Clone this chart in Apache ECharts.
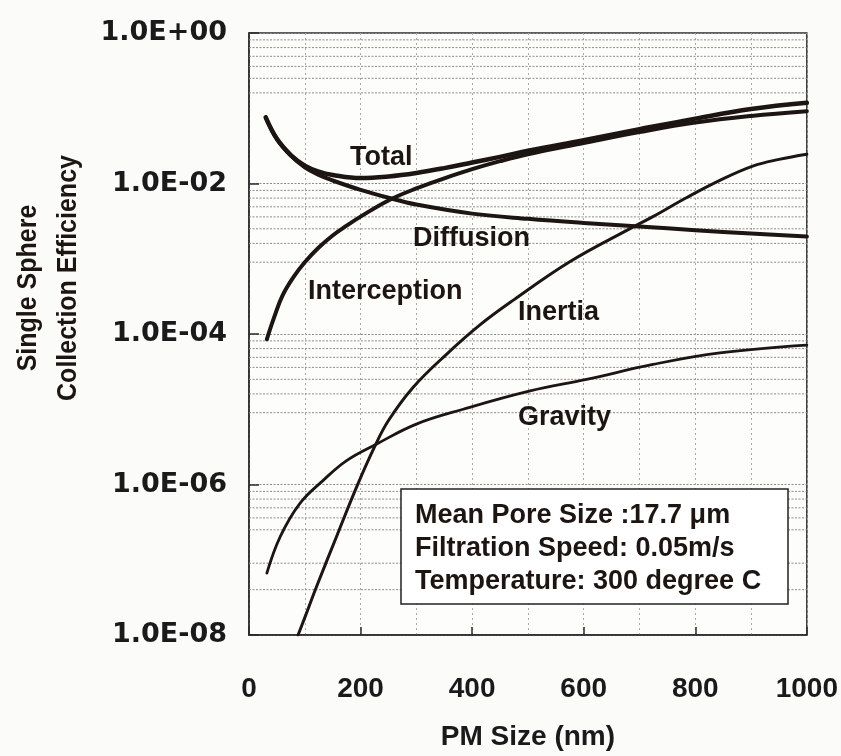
<!DOCTYPE html>
<html><head><meta charset="utf-8">
<script src="https://cdn.jsdelivr.net/npm/echarts@6/dist/echarts.min.js"></script>
<style>html,body{margin:0;padding:0;background:#fbfbfa;} #c{width:841px;height:756px;}</style>
</head><body><div id="c"></div>
<script>
// ---- data ----
const yTickExponents = [-8, -6, -4, -2, 0];
const yTickLabels = ['1.0E-08', '1.0E-06', '1.0E-04', '1.0E-02', '1.0E+00'];

const totalX = [30, 50, 75, 100, 125, 150, 200, 250, 300, 350, 400, 450, 500, 600, 700, 800, 900, 1000];
const totalY = [0.0756, 0.0392, 0.0239, 0.0173, 0.0144, 0.0130, 0.0118, 0.0124, 0.0138, 0.0160, 0.0190, 0.0226, 0.0272, 0.0377, 0.0527, 0.0728, 0.0975, 0.118];

const diffusionX = [30, 50, 75, 100, 125, 150, 200, 250, 300, 400, 500, 600, 700, 800, 900, 1000];
const diffusionY = [0.0755, 0.0389, 0.0234, 0.0164, 0.0130, 0.01096, 0.00822, 0.00646, 0.00525, 0.00398, 0.00339, 0.00299, 0.00269, 0.00240, 0.00216, 0.00197];

const interceptionX = [32, 45, 60, 80, 100, 125, 150, 175, 200, 250, 300, 350, 400, 450, 500, 600, 700, 800, 900, 1000];
const interceptionY = [8.5e-5, 1.66e-4, 3.24e-4, 5.75e-4, 9.0e-4, 1.41e-3, 2.04e-3, 2.75e-3, 3.63e-3, 5.96e-3, 8.6e-3, 0.0117, 0.0155, 0.0198, 0.0245, 0.0345, 0.0482, 0.0645, 0.0790, 0.0914];

const inertiaX = [88, 100, 121, 157, 193, 225, 250, 294, 354, 414, 474, 575, 683, 724, 784, 844, 903, 950, 1000];
const inertiaY = [1.0e-8, 1.7e-8, 4.37e-8, 2.04e-7, 9.3e-7, 3.16e-6, 7.08e-6, 1.95e-5, 5.37e-5, 1.32e-4, 2.82e-4, 9.12e-4, 2.51e-3, 3.63e-3, 6.46e-3, 0.0110, 0.0170, 0.0209, 0.0245];

const gravityX = [32, 56, 91, 133, 175, 229, 300, 384, 504, 605, 724, 844, 1000];
const gravityY = [6.65e-8, 2.03e-7, 5.58e-7, 1.135e-6, 2.08e-6, 3.46e-6, 6.35e-6, 1.0e-5, 1.75e-5, 2.49e-5, 3.94e-5, 5.6e-5, 7.1e-5];

// horizontal minor grid lines of the log axis
const minorGridValues = [
  0.81, 0.64, 0.49, 0.36, 0.25, 0.16,
  8.1e-3, 6.4e-3, 4.9e-3, 3.6e-3, 2.5e-3, 1.6e-3, 9e-4,
  8.1e-5, 6.4e-5, 4.9e-5, 3.6e-5, 2.5e-5, 1.6e-5, 9e-6,
  8.1e-7, 6.4e-7, 4.9e-7, 3.6e-7, 2.5e-7, 9e-8, 4e-8
];

const seriesNames = ['Total', 'Diffusion', 'Interception', 'Inertia', 'Gravity'];
const infoLines = ['Mean Pore Size :17.7 \u03bcm', 'Filtration Speed: 0.05m/s', 'Temperature: 300 degree C'];
const axisTitleX = 'PM Size (nm)';
const axisTitleY = ['Single Sphere', 'Collection Efficiency'];

// ---- chart ----
const pair = (xs, ys) => xs.map((x, i) => [x, ys[i]]);
const INK = '#1c1512';
const ARIAL = '"Liberation Sans", Arial, sans-serif';
const X_MIN = 0, X_MAX = 1000;

const chart = echarts.init(document.getElementById('c'), null, {renderer: 'canvas'});

function lineSeries(name, xs, ys, w) {
  return {
    name, type: 'line', data: pair(xs, ys), showSymbol: false, symbol: 'none',
    smooth: 0.4, lineStyle: {color: INK, width: w, cap: 'round', join: 'round'},
    z: 3, silent: true
  };
}

const gridSeries = minorGridValues.map(v => ({
  type: 'line', data: [[X_MIN, v], [X_MAX, v]], showSymbol: false, symbol: 'none', silent: true, z: 1,
  lineStyle: {color: '#8c8c8c', width: 1, type: [2, 1.5]}
}));

const option = {
  animation: false,
  backgroundColor: '#fbfbfa',
  grid: {left: 249, right: 34, top: 33, bottom: 117, show: true, backgroundColor: '#fdfdfc',
         borderColor: '#2a2a2a', borderWidth: 1.5},
  xAxis: {
    type: 'value', min: X_MIN, max: X_MAX, interval: 200,
    axisLine: {show: true, lineStyle: {color: '#2a2a2a', width: 1.5}},
    axisTick: {show: true, inside: true, length: 8, lineStyle: {color: '#2a2a2a', width: 1.5}},
    axisLabel: {margin: 40, color: '#1a1a1a', fontFamily: ARIAL, fontWeight: 'bold', fontSize: 28,
                formatter: v => String(v)},
    splitLine: {show: true, lineStyle: {color: '#aaa', width: 1, type: [2, 3]}},
    minorTick: {show: false, splitNumber: 2},
    minorSplitLine: {show: true, lineStyle: {color: '#aaa', width: 1, type: [2, 3]}},
    name: axisTitleX, nameLocation: 'middle', nameGap: 88,
    nameTextStyle: {color: '#1a1a1a', fontFamily: ARIAL, fontWeight: 'bold', fontSize: 28}
  },
  yAxis: {
    type: 'log', logBase: 100, min: 1e-8, max: 1, interval: 1, splitNumber: 4,
    axisLine: {show: true, lineStyle: {color: '#2a2a2a', width: 1.5}},
    axisTick: {show: true, inside: true, length: 10, lineStyle: {color: '#2a2a2a', width: 1.5}},
    axisLabel: {
      margin: 22, color: '#1a1a1a', fontFamily: '"DejaVu Sans", sans-serif', fontWeight: 'bold', fontSize: 27,
      formatter: v => {
        const e = Math.round(Math.log10(v));
        const i = yTickExponents.indexOf(e);
        return i >= 0 ? yTickLabels[i] : '';
      }
    },
    splitLine: {show: true, lineStyle: {color: '#8c8c8c', width: 1, type: [2, 1.5]}}
  },
  series: gridSeries.concat([
    lineSeries(seriesNames[0], totalX, totalY, 4.5),
    lineSeries(seriesNames[1], diffusionX, diffusionY, 4),
    lineSeries(seriesNames[2], interceptionX, interceptionY, 4),
    lineSeries(seriesNames[3], inertiaX, inertiaY, 3),
    lineSeries(seriesNames[4], gravityX, gravityY, 2.8)
  ]),
  graphic: [
    // curve labels
    {type: 'text', left: 350, top: 144, z: 10, style: {text: seriesNames[0], font: 'bold 27px ' + ARIAL, fill: INK}},
    {type: 'text', left: 413, top: 225, z: 10, style: {text: seriesNames[1], font: 'bold 27px ' + ARIAL, fill: INK}},
    {type: 'text', left: 308, top: 278, z: 10, style: {text: seriesNames[2], font: 'bold 27px ' + ARIAL, fill: INK}},
    {type: 'text', left: 518, top: 299, z: 10, style: {text: seriesNames[3], font: 'bold 27px ' + ARIAL, fill: INK}},
    {type: 'text', left: 518, top: 404, z: 10, style: {text: seriesNames[4], font: 'bold 27px ' + ARIAL, fill: INK}},
    // info box
    {type: 'rect', z: 10, shape: {x: 401, y: 489, width: 387, height: 115},
     style: {fill: '#ffffff', stroke: '#222', lineWidth: 1.5}},
    {type: 'text', z: 11, x: 415, y: 516, style: {text: infoLines[0], font: 'bold 27px ' + ARIAL, fill: INK, textVerticalAlign: 'middle'}},
    {type: 'text', z: 11, x: 415, y: 549, style: {text: infoLines[1], font: 'bold 27px ' + ARIAL, fill: INK, textVerticalAlign: 'middle'}},
    {type: 'text', z: 11, x: 415, y: 582, style: {text: infoLines[2], font: 'bold 27px ' + ARIAL, fill: INK, textVerticalAlign: 'middle'}},
    // y axis title
    {type: 'text', z: 10, x: 28, y: 288, rotation: Math.PI / 2, scaleY: 1.1,
     style: {text: axisTitleY[0], font: 'bold 25px ' + ARIAL, fill: INK, textAlign: 'center', textVerticalAlign: 'middle'}},
    {type: 'text', z: 10, x: 68, y: 278, rotation: Math.PI / 2, scaleY: 1.1,
     style: {text: axisTitleY[1], font: 'bold 25px ' + ARIAL, fill: INK, textAlign: 'center', textVerticalAlign: 'middle'}}
  ]
};
chart.setOption(option);
</script>
</body></html>
